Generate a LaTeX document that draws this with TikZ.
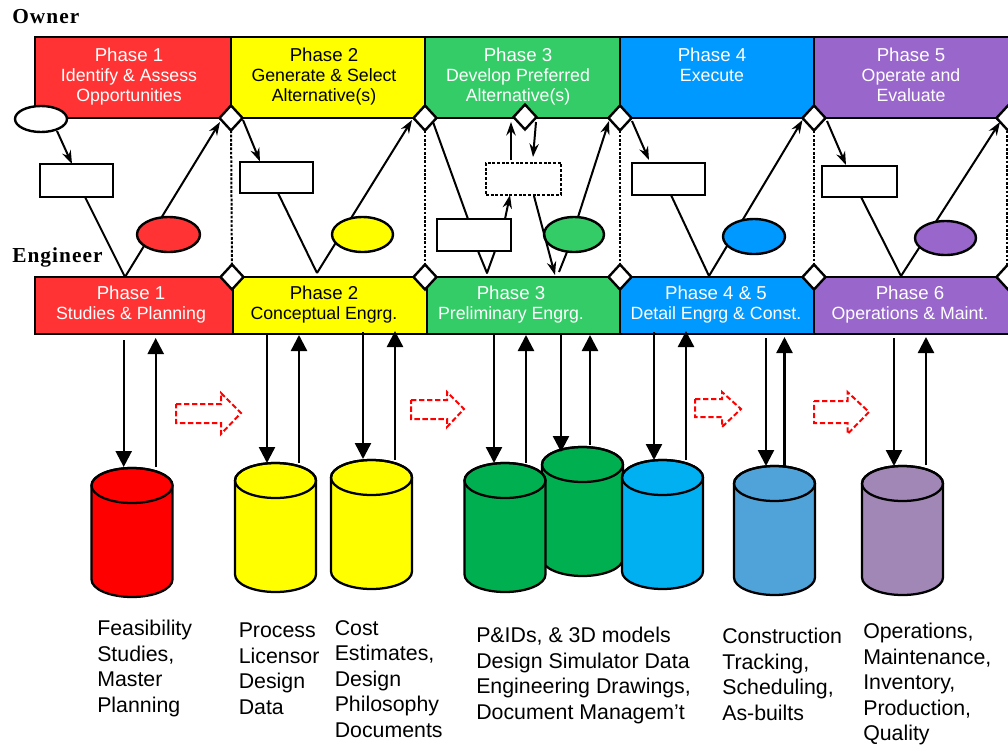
\documentclass[tikz,border=0pt]{standalone}
\usepackage{fontspec}
\setmainfont{Liberation Sans}
\newfontfamily\headfont[LetterSpace=5]{Liberation Serif}
\usetikzlibrary{shapes.geometric,arrows.meta}
\def\px{0.75pt}
\definecolor{pRed}{HTML}{FF3333}
\definecolor{pYel}{HTML}{FFFF00}
\definecolor{pGrn}{HTML}{33CC66}
\definecolor{pBlu}{HTML}{0099FF}
\definecolor{pPur}{HTML}{9966CC}
\definecolor{dRed}{HTML}{FF0000}
\definecolor{dGrn}{HTML}{00B050}
\definecolor{dCya}{HTML}{00B0F0}
\definecolor{dBlu}{HTML}{4FA3D8}
\definecolor{dPur}{HTML}{A087B5}
\pgfdeclarelayer{back}
\pgfdeclarelayer{mid}
\pgfdeclarelayer{front}
\pgfsetlayers{back,mid,main,front}
\tikzset{
  panelbox/.style={draw=black,line width=1.8pt,inner sep=0pt,outer sep=0pt},
  ownerpanel/.style={panelbox,minimum height=81*\px},
  engpanel/.style={panelbox,minimum height=57*\px},
  paneltext/.style={inner sep=0pt,align=center,font=\fontsize{13.3}{15}\selectfont},
  gate/.style={diamond,draw=black,fill=white,line width=1.8pt,inner sep=0pt,outer sep=0pt,minimum width=23*\px,minimum height=25*\px},
  taskbox/.style={rectangle,draw=black,fill=white,line width=1.8pt,inner sep=0pt,outer sep=0pt},
  dashbox/.style={taskbox,dash pattern=on 2.2pt off 1.3pt},
  bubble/.style={ellipse,draw=black,line width=1.8pt,inner sep=0pt,outer sep=0pt},
  flow/.style={draw=black,line width=1.5pt,-{Stealth[length=10pt,width=7pt]}},
  plainline/.style={draw=black,line width=1.5pt,line join=round},
  divider/.style={draw=black,line width=1.5pt,dash pattern=on 2pt off 1.2pt},
  bigarrow/.style={draw=black,line width=1.8pt,-{Triangle[length=12pt,width=12pt]}},
  drumbox/.style={rectangle,inner sep=0pt,outer sep=0pt,minimum width=81*\px,minimum height=129*\px},
  nextarrow/.style={draw=red,line width=1.5pt,dash pattern=on 4pt off 2pt},
  caption/.style={inner sep=0pt,anchor=north west,align=left,font=\fontsize{16}{19.1}\selectfont},
  rolehead/.style={inner sep=0pt,anchor=west,font=\headfont\bfseries\fontsize{16}{18}\selectfont},
}
\newcommand{\drum}[4]{%
  \node[drumbox] (#1) at (#2,#3+64.5) {};
  \draw[fill=#4,line width=1.7pt] (#2-40.5,#3+17.5) -- (#2-40.5,#3+111.5)
    arc[start angle=180,end angle=0,x radius=40.5,y radius=17.5]
    -- (#2+40.5,#3+17.5)
    arc[start angle=0,end angle=-180,x radius=40.5,y radius=17.5] -- cycle;
  \draw[line width=1.7pt] (#2,#3+17.5) ellipse [x radius=40.5,y radius=17.5];
}
\newcommand{\phs}[1]{{\fontsize{14}{15}\selectfont #1}}
\begin{document}
\begin{tikzpicture}[x=0.75pt,y=-0.75pt]
\clip (0,0) rectangle (1008,744);

\node[rolehead] (ownerlabel) at (12,17) {Owner};
\node[rolehead] (engineerlabel) at (12,257) {Engineer};

\begin{pgfonlayer}{back}
\fill[white] (0,0) rectangle (1008,744);
\node[ownerpanel,fill=pRed,minimum width=196*\px] (op1) at (133,77.5) {};
\node[ownerpanel,fill=pYel,minimum width=194*\px] (op2) at (328,77.5) {};
\node[ownerpanel,fill=pGrn,minimum width=195*\px] (op3) at (522.5,77.5) {};
\node[ownerpanel,fill=pBlu,minimum width=194*\px] (op4) at (717,77.5) {};
\node[ownerpanel,fill=pPur,minimum width=198*\px] (op5) at (913,77.5) {};
\node[engpanel,fill=pRed,minimum width=198*\px] (ep1) at (134,305.5) {};
\node[engpanel,fill=pYel,minimum width=194*\px] (ep2) at (330,305.5) {};
\node[engpanel,fill=pGrn,minimum width=193*\px] (ep3) at (523.5,305.5) {};
\node[engpanel,fill=pBlu,minimum width=194*\px] (ep45) at (717,305.5) {};
\node[engpanel,fill=pPur,minimum width=198*\px] (ep6) at (913,305.5) {};
\end{pgfonlayer}

\node[paneltext,text=white] (ot1) at (129,77) {\phs{Phase 1}\\Identify \& Assess\\Opportunities};
\node[paneltext,text=black] (ot2) at (324,77) {\phs{Phase 2}\\Generate \& Select\\Alternative(s)};
\node[paneltext,text=white] (ot3) at (518,77) {\phs{Phase 3}\\Develop Preferred\\Alternative(s)};
\node[paneltext,text=white] (ot4) at (712,65) {\phs{Phase 4}\\Execute};
\node[paneltext,text=white] (ot5) at (911,75) {\phs{Phase 5}\\Operate and\\Evaluate};
\node[paneltext,text=white] (et1) at (131,305) {\phs{Phase 1}\\Studies \& Planning};
\node[paneltext,text=black] (et2) at (324,305) {\phs{Phase 2}\\Conceptual Engrg.};
\node[paneltext,text=white] (et3) at (511,305) {\phs{Phase 3}\\Preliminary Engrg.};
\node[paneltext,text=white] (et45) at (716,305) {\phs{Phase 4 \& 5}\\Detail Engrg \& Const.};
\node[paneltext,text=white] (et6) at (910,305) {\phs{Phase 6}\\Operations \& Maint.};

% gates
\node[gate] (g1) at (231,118) {};
\node[gate] (g2) at (425,118) {};
\node[gate] (gm) at (525,117) {};
\node[gate] (g3) at (620,118) {};
\node[gate] (g4) at (814,118) {};
\node[gate] (g5) at (1008,118) {};
\node[gate] (b1) at (232,277) {};
\node[gate] (b2) at (425,277) {};
\node[gate] (b3) at (620,277) {};
\node[gate] (b4) at (814,277) {};
\node[gate] (b5) at (1008,277) {};

% task boxes
\node[taskbox,minimum width=73*\px,minimum height=33*\px] (r1) at (76.5,180.5) {};
\node[taskbox,minimum width=73*\px,minimum height=31*\px] (r2) at (276.5,177.5) {};
\node[taskbox,minimum width=74*\px,minimum height=32*\px] (r3) at (474,235) {};
\node[dashbox,minimum width=75*\px,minimum height=32*\px] (rd) at (523.5,179) {};
\node[taskbox,minimum width=73*\px,minimum height=32*\px] (r4) at (668.5,179) {};
\node[taskbox,minimum width=75*\px,minimum height=31*\px] (r5) at (859.5,181.5) {};

% bubbles
\node[bubble,fill=white,minimum width=52*\px,minimum height=26*\px] (e0) at (41,119) {};
\node[bubble,fill=pRed,minimum width=63*\px,minimum height=35*\px] (e1) at (168.5,234.5) {};
\node[bubble,fill=pYel,minimum width=61*\px,minimum height=35*\px] (e2) at (362.5,234.5) {};
\node[bubble,fill=pGrn,minimum width=60*\px,minimum height=35*\px] (e3) at (574,234.5) {};
\node[bubble,fill=pBlu,minimum width=62*\px,minimum height=35*\px] (e4) at (754,236.5) {};
\node[bubble,fill=pPur,minimum width=61*\px,minimum height=34*\px] (e5) at (945.5,238) {};

\coordinate (v1) at (125,277);
\coordinate (v2) at (317,273);
\coordinate (v3) at (487,273);
\coordinate (v3b) at (559,272);
\coordinate (v4) at (709,276);
\coordinate (v5) at (901,276);

\begin{pgfonlayer}{mid}
\draw[divider] (g1) -- (b1);
\draw[divider] (g2) -- (b2);
\draw[divider] (g3) -- (b3);
\draw[divider] (g4) -- (b4);
\draw[divider] ([xshift=-0.75pt]g5.center) -- ([xshift=-0.75pt]b5.center);

\draw[flow] ([shift={(16,12)}]e0.center) -- ([shift={(-4.5,0)}]r1.north);
\draw[plainline] ([shift={(8.5,0)}]r1.south) -- (v1);
\draw[flow] (v1) -- ([shift={(-11,4)}]g1.center);
\draw[flow] ([shift={(12,2)}]g1.center) -- ([shift={(-16.5,-0.5)}]r2.north);
\draw[plainline] ([shift={(1.5,0)}]r2.south) -- (v2);
\draw[flow] (v2) -- ([shift={(-13,2)}]g2.center);
\draw[plainline] ([shift={(8,4)}]g2.center) -- ([shift={(-6,0)}]r3.north);
\draw[plainline] ([shift={(4,0)}]r3.south) -- (v3) -- ([shift={(21,0)}]r3.south);
\draw[flow] ([shift={(31,0)}]r3.north) -- ([shift={(-13.5,0)}]rd.south);
\draw[flow] ([shift={(-12.5,-3)}]rd.north) -- ([shift={(-14,5)}]gm.center);
\draw[flow] ([shift={(11,5)}]gm.center) -- ([shift={(9.5,-6)}]rd.north);
\draw[plainline] ([shift={(-7,0)}]e3.south) -- (v3b);
\draw[flow] ([shift={(4,0)}]e3.north) -- ([shift={(-11,3)}]g3.center);
\draw[flow] ([shift={(12,3)}]g3.center) -- ([shift={(-19.5,-3)}]r4.north);
\draw[plainline] ([shift={(2.5,0)}]r4.south) -- (v4);
\draw[flow] (v4) -- ([shift={(-11.5,2)}]g4.center);
\draw[flow] ([shift={(13,3)}]g4.center) -- ([shift={(-13.5,-1)}]r5.north);
\draw[plainline] ([shift={(1.5,0)}]r5.south) -- (v5);
\draw[flow] (v5) -- ([shift={(-8,4)}]g5.center);
\end{pgfonlayer}

% drums
\drum{dA}{132}{468}{dRed}
\drum{dB}{275.5}{463}{pYel}
\drum{dC}{371.5}{460}{pYel}
\drum{dE}{582.5}{447}{dGrn}
\drum{dD}{505}{463}{dGrn}
\drum{dF}{662.5}{460}{dCya}
\drum{dG}{774.5}{466}{dBlu}
\drum{dH}{902.5}{466}{dPur}

\begin{pgfonlayer}{front}
\draw[flow] ([shift={(10.5,1)}]rd.south) -- ([shift={(31.5,-2)}]ep3.north);
\draw[bigarrow] ([shift={(-10.3,6)}]ep1.south) -- ([shift={(-8.3,-1)}]dA.north);
\draw[bigarrow] ([shift={(23.7,-1)}]dA.north) -- ([shift={(21.7,4)}]ep1.south);
\draw[bigarrow] ([shift={(-63,1)}]ep2.south) -- ([shift={(-8.5,0)}]dB.north);
\draw[bigarrow] ([shift={(23.5,0)}]dB.north) -- ([shift={(-31,1)}]ep2.south);
\draw[bigarrow] ([shift={(33,-2)}]ep2.south) -- ([shift={(-8.5,-1)}]dC.north);
\draw[bigarrow] ([shift={(23.5,0)}]dC.north) -- ([shift={(65,-3)}]ep2.south);
\draw[bigarrow] ([shift={(-29.5,1)}]ep3.south) -- ([shift={(-11,0)}]dD.north);
\draw[bigarrow] ([shift={(21,0)}]dD.north) -- ([shift={(2.5,1)}]ep3.south);
\draw[bigarrow] ([shift={(37.5,1)}]ep3.south) -- ([shift={(-21.5,5)}]dE.north);
\draw[bigarrow] ([shift={(7.5,-2)}]dE.north) -- ([shift={(66.5,1)}]ep3.south);
\draw[bigarrow] ([shift={(-63,-2)}]ep45.south) -- ([shift={(-8.5,0)}]dF.north);
\draw[bigarrow] ([shift={(23.5,0)}]dF.north) -- ([shift={(-31,-3)}]ep45.south);
\draw[bigarrow] ([shift={(49,4)}]ep45.south) -- ([shift={(-8.5,0)}]dG.north);
\draw[bigarrow] ([shift={(10,0)}]dG.north) -- ([shift={(67.5,3)}]ep45.south);
\draw[bigarrow] ([shift={(-19,4)}]ep6.south) -- ([shift={(-8.5,0)}]dH.north);
\draw[bigarrow] ([shift={(23.5,-1)}]dH.north) -- ([shift={(13,3)}]ep6.south);
\end{pgfonlayer}

% dashed progress arrows
\draw[nextarrow] (176,404) -- (221,404) -- (221,393) -- (241,413) -- (221,434) -- (221,423) -- (176,423) -- cycle;
\draw[nextarrow] (411,400) -- (447,400) -- (447,392) -- (464,409) -- (447,427) -- (447,419) -- (411,419) -- cycle;
\draw[nextarrow] (695,399) -- (722,399) -- (722,392) -- (741,409) -- (722,427) -- (722,417) -- (695,417) -- cycle;
\draw[nextarrow] (814,401) -- (847.5,401) -- (847.5,392) -- (869,412) -- (847.5,434) -- (847.5,423) -- (814,423) -- cycle;

% captions
\node[caption] (c1) at (97,620) {Feasibility\\Studies,\\Master\\Planning};
\node[caption] (c2) at (238.5,623) {Process\\Licensor\\Design\\Data};
\node[caption] (c3) at (334.5,620) {Cost\\Estimates,\\Design\\Philosophy\\Documents};
\node[caption] (c4) at (476,627) {P\&IDs, \& 3D models\\Design Simulator Data\\Engineering Drawings,\\Document Managem’t};
\node[caption] (c5) at (722,628) {Construction\\Tracking,\\Scheduling,\\As-builts};
\node[caption] (c6) at (863,623) {Operations,\\Maintenance,\\Inventory,\\Production,\\Quality};
\end{tikzpicture}
\end{document}
